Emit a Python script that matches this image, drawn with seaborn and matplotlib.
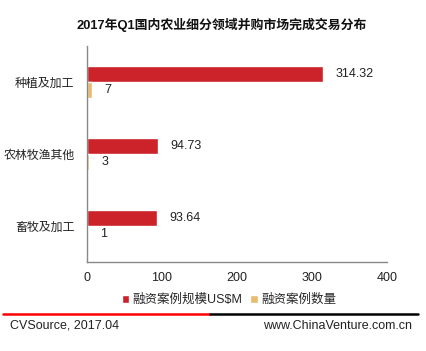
import matplotlib
matplotlib.use("Agg")
import matplotlib.pyplot as plt
from matplotlib.lines import Line2D
import pandas as pd
import seaborn as sns

sns.set_theme(style="white")
plt.rcParams['font.family'] = ['Liberation Sans', 'Noto Sans CJK SC', 'DejaVu Sans']

categories = ["种植及加工", "农林牧渔其他", "畜牧及加工"]
amount = [314.32, 94.73, 93.64]
deals = [7, 3, 1]
series = ["融资案例规模US$M", "融资案例数量"]
xticks = [0, 100, 200, 300, 400]
colors = ["#CC2229", "#E8BC6E"]

df = pd.DataFrame({
    "cat": categories * 2,
    "value": amount + deals,
    "series": [series[0]] * 3 + [series[1]] * 3,
})

fig = plt.figure(figsize=(4.27, 3.51), dpi=100)
ax = fig.add_axes([87 / 427, 1 - 262 / 351, 300 / 427, 216 / 351])
sns.barplot(data=df, y="cat", x="value", hue="series", palette=colors,
            orient="h", width=0.45, saturation=1, ax=ax, legend=True)

for cont in ax.containers:
    ax.bar_label(cont, labels=[f"{v:g}" for v in cont.datavalues],
                 padding=9, fontsize=9, color="#222222")

ax.set_xlim(0, 400)
ax.set_xticks(xticks)
ax.set_ylim(2.5, -0.5)
ax.set_xlabel("")
ax.set_ylabel("")
ax.tick_params(axis="both", length=0, labelsize=9, colors="#222222")
ax.tick_params(axis="y", pad=9, labelsize=8.6)
ax.tick_params(axis="x", pad=7)
for s in ["top", "right"]:
    ax.spines[s].set_visible(False)
for s in ["left", "bottom"]:
    ax.spines[s].set_color("#888888")
    ax.spines[s].set_linewidth(1)

sns.move_legend(ax, "center", bbox_to_anchor=(229 / 427, 1 - 300 / 351),
                bbox_transform=fig.transFigure, ncol=2, frameon=False, title=None,
                fontsize=9, handlelength=0.6, handleheight=0.6,
                handletextpad=0.3, columnspacing=0.6)

fig.text(222 / 427, 1 - 25 / 351, "2017年Q1国内农业细分领域并购市场完成交易分布",
         ha="center", va="center", fontsize=9.3, fontweight="bold", color="#111111")

fig.add_artist(Line2D([3 / 427, 210 / 427], [1 - 314 / 351] * 2, color="#FF0000", lw=1.8))
fig.add_artist(Line2D([210 / 427, 418 / 427], [1 - 314 / 351] * 2, color="#000000", lw=1.8))
fig.text(10 / 427, 1 - 326 / 351, "CVSource, 2017.04", ha="left", va="center",
         fontsize=9, color="#222222")
fig.text(412 / 427, 1 - 326 / 351, "www.ChinaVenture.com.cn", ha="right", va="center",
         fontsize=9, color="#222222")

fig.savefig("out.png", dpi=100)
